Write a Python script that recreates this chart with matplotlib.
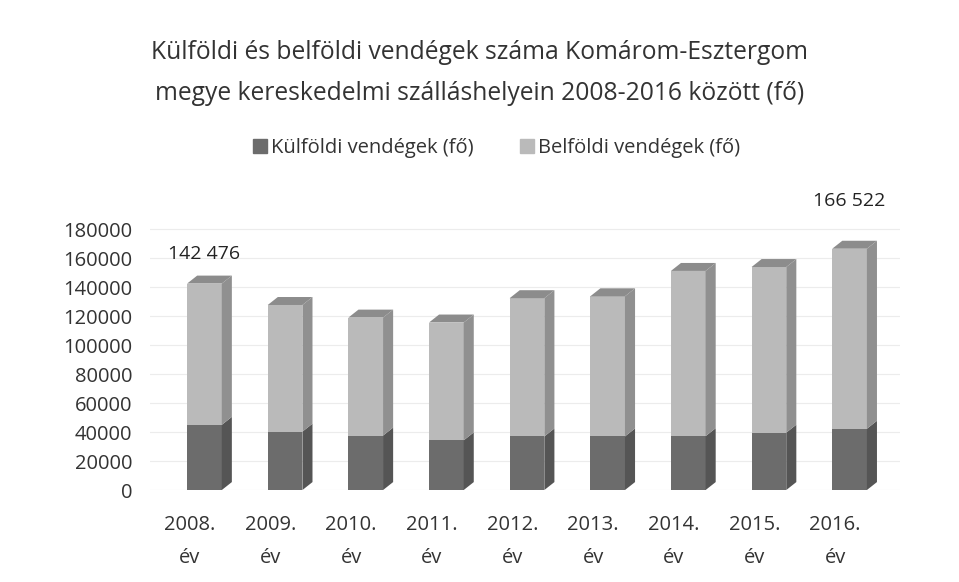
import numpy as np
import matplotlib
matplotlib.use("Agg")
import matplotlib.pyplot as plt

# values (persons)
years = ["2008.\név", "2009.\név", "2010.\név", "2011.\név", "2012.\név",
         "2013.\név", "2014.\név", "2015.\név", "2016.\név"]
kulfoldi = [45000, 40300, 37600, 34300, 37000, 37000, 37200, 39600, 42300]
osszes = [142476, 127700, 119000, 115600, 132400, 133700, 151200, 153900, 166522]
belfoldi = [o - k for o, k in zip(osszes, kulfoldi)]
labelled = [0, 8]  # bars that carry a total label
label_pad = [9000, 21000]

plt.rcParams['font.family'] = ['Open Sans', 'DejaVu Sans']
txt = '#333333'

fig = plt.figure(figsize=(9.59, 5.82), dpi=100)
ax = fig.add_axes([0.156, 0.158, 0.782, 0.498])

x = np.arange(len(years))
w = 0.43
dx, dy = 0.125, 5500   # fake depth of the 3d bars

front = ['#6c6c6c', '#bababa']
side = ['#555555', '#909090']
top_c = '#8c8c8c'

for i in x:
    segs = [(0, kulfoldi[i]), (kulfoldi[i], osszes[i])]
    for j, (b, t) in enumerate(segs):
        ax.bar(i, t - b, bottom=b, width=w, color=front[j], zorder=3)
        xr = i + w / 2
        ax.fill([xr, xr + dx, xr + dx, xr], [b, b + dy, t + dy, t],
                color=side[j], zorder=3, lw=0)
    t = osszes[i]
    ax.fill([i - w / 2, i + w / 2, i + w / 2 + dx, i - w / 2 + dx],
            [t, t, t + dy, t + dy], color=top_c, zorder=3, lw=0)

for k, i in enumerate(labelled):
    s = f"{osszes[i]:,}".replace(",", " ")
    ax.text(i, osszes[i] + dy + label_pad[k], s, ha='center', va='bottom',
            fontsize=14, color='#222222')

ax.set_xlim(-0.68, 8.62)
ax.set_ylim(0, 200000)
ax.set_yticks(np.arange(0, 180001, 20000))
ax.set_yticklabels([str(v) for v in range(0, 180001, 20000)])
ax.set_xticks(x - 0.18)
ax.set_xticklabels(years, linespacing=1.85)
ax.tick_params(axis='both', length=0, labelsize=14.5, colors=txt)
ax.tick_params(axis='y', pad=12.5)
ax.tick_params(axis='x', pad=18)
for sp in ax.spines.values():
    sp.set_visible(False)
ax.yaxis.grid(True, color='#ececec', lw=0.8, zorder=0)

fig.text(0.5, 0.909, "Külföldi és belföldi vendégek száma Komárom-Esztergom",
         ha='center', va='center', fontsize=17.7, color=txt)
fig.text(0.5, 0.840, "megye kereskedelmi szálláshelyein 2008-2016 között (fő)",
         ha='center', va='center', fontsize=17.7, color=txt)

handles = [plt.Rectangle((0, 0), 1, 1, color=front[0]),
           plt.Rectangle((0, 0), 1, 1, color=front[1])]
fig.legend(handles, ["Külföldi vendégek (fő)", "Belföldi vendégek (fő)"],
           loc='center', bbox_to_anchor=(0.518, 0.745), ncol=2, frameon=False,
           fontsize=14.5, handlelength=0.7, handleheight=0.7,
           handletextpad=0.2, columnspacing=2.3, labelcolor=txt)

fig.savefig("out.png", dpi=100, facecolor='white')
